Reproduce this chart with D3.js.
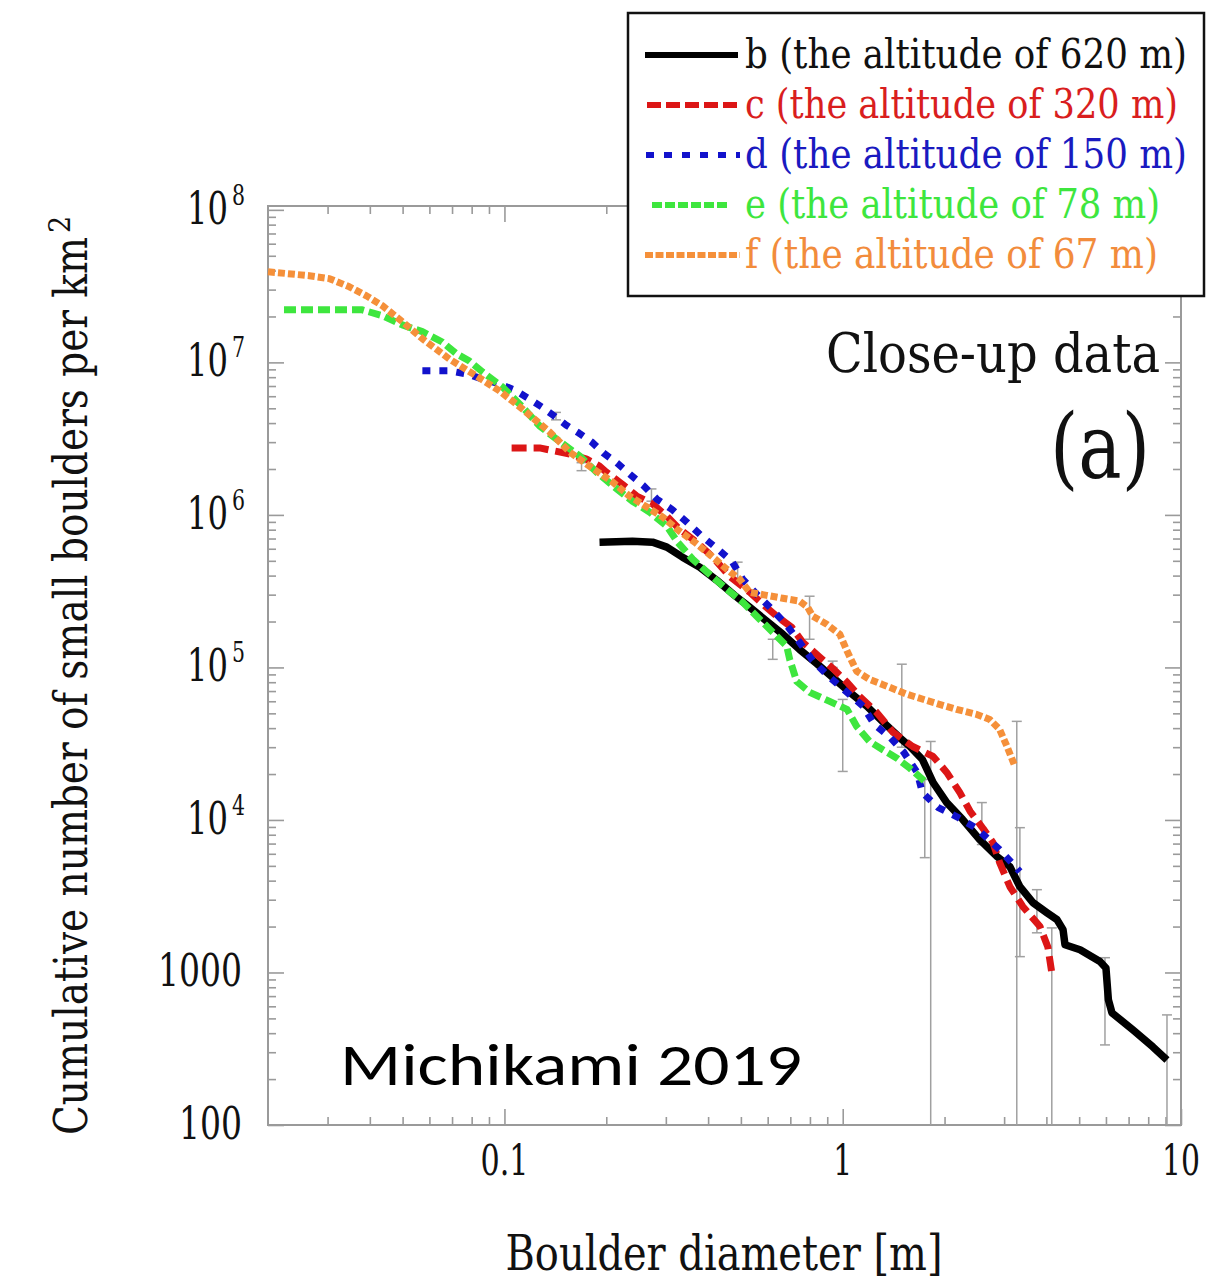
<!DOCTYPE html>
<html><head><meta charset="utf-8">
<script src="https://cdn.jsdelivr.net/npm/d3@7"></script>
<style>
body{margin:0;background:#fff}
svg{display:block}
</style>
</head><body>
<svg id="chart" width="1223" height="1281"></svg>
<script>
// ---------- data ----------
// b: altitude 620 m
const bDiam = [0.191,0.239,0.274,0.302,0.336,0.378,0.424,0.479,0.531,0.596,0.665,0.746,0.838,0.934,1.05,1.18,1.31,1.47,1.58,1.72,1.85,2.03,2.26,2.54,2.86,3.12,3.34,3.65,4.01,4.30,4.48,4.54,5.03,5.76,6.00,6.10,6.25,7.21,8.26,9.09];
const bCum  = [6.63e5,6.73e5,6.63e5,6.15e5,5.28e5,4.54e5,3.73e5,2.97e5,2.48e5,2.01e5,1.65e5,1.31e5,1.06e5,8.61e4,6.86e4,5.55e4,4.43e4,3.48e4,3.03e4,2.49e4,1.76e4,1.30e4,1.01e4,7.43e3,5.75e3,4.94e3,3.65e3,2.87e3,2.47e3,2.22e3,1.91e3,1.52e3,1.41e3,1.18e3,1.07e3,662,544,420,325,267];
// c: altitude 320 m
const cDiam = [0.105,0.127,0.141,0.156,0.175,0.191,0.200,0.223,0.246,0.274,0.302,0.329,0.370,0.413,0.463,0.531,0.580,0.638,0.707,0.762,0.855,0.934,1.03,1.12,1.26,1.41,1.61,1.85,2.03,2.22,2.38,2.60,2.78,2.91,3.12,3.41,3.83,4.04,4.15];
const cCum  = [2.75e6,2.75e6,2.62e6,2.51e6,2.32e6,2.09e6,1.91e6,1.59e6,1.33e6,1.18e6,9.82e5,8.07e5,6.63e5,5.28e5,3.96e5,3.11e5,2.60e5,2.17e5,1.83e5,1.46e5,1.17e5,9.87e4,7.99e4,6.46e4,5.07e4,3.75e4,3.03e4,2.61e4,2.05e4,1.51e4,1.14e4,8.78e3,7.11e3,5.25e3,3.65e3,2.70e3,2.00e3,1.47e3,995];
// d: altitude 150 m
const dDiam = [0.0572,0.0688,0.0772,0.0861,0.0967,0.107,0.117,0.129,0.139,0.152,0.166,0.181,0.196,0.215,0.236,0.258,0.282,0.314,0.346,0.383,0.424,0.470,0.506,0.557,0.617,0.683,0.746,0.815,0.915,1.03,1.15,1.24,1.38,1.51,1.66,1.72,1.91,2.19,2.49,2.91,3.34];
const dCum  = [8.80e6,8.80e6,8.40e6,7.79e6,7.22e6,6.60e6,5.85e6,5.10e6,4.52e6,3.89e6,3.44e6,3.01e6,2.55e6,2.19e6,1.83e6,1.55e6,1.27e6,1.08e6,8.97e5,7.26e5,6.05e5,4.97e5,3.79e5,3.02e5,2.41e5,1.89e5,1.46e5,1.11e5,8.61e4,6.86e4,5.55e4,4.23e4,3.48e4,2.81e4,2.05e4,1.51e4,1.21e4,1.04e4,8.78e3,6.39e3,4.58e3];
// e: altitude 78 m
const eDiam = [0.0223,0.0380,0.0436,0.0499,0.0572,0.0655,0.0721,0.0788,0.0861,0.0986,0.113,0.127,0.145,0.167,0.187,0.215,0.239,0.269,0.302,0.325,0.360,0.410,0.454,0.506,0.568,0.621,0.683,0.697,0.731,0.799,0.915,1.03,1.10,1.20,1.31,1.45,1.58,1.75];
const eCum  = [2.21e7,2.21e7,2.02e7,1.76e7,1.59e7,1.36e7,1.14e7,1.02e7,8.66e6,6.91e6,5.10e6,3.83e6,3.05e6,2.43e6,1.91e6,1.48e6,1.23e6,1.04e6,8.44e5,6.63e5,5.13e5,3.96e5,3.26e5,2.68e5,2.07e5,1.70e5,1.38e5,1.13e5,8.10e4,6.86e4,5.99e4,5.31e4,4.10e4,3.27e4,2.90e4,2.53e4,2.18e4,1.79e4];
// f: altitude 67 m
const fDiam = [0.0200,0.0265,0.0304,0.0348,0.0391,0.0436,0.0499,0.0572,0.0688,0.0826,0.0967,0.113,0.136,0.156,0.187,0.209,0.234,0.263,0.294,0.329,0.365,0.410,0.454,0.496,0.531,0.596,0.665,0.746,0.788,0.815,0.897,0.980,1.03,1.10,1.20,1.31,1.55,1.85,2.17,2.49,2.72,2.91,3.06,3.23];
const fCum  = [3.93e7,3.70e7,3.54e7,3.13e7,2.73e7,2.35e7,1.85e7,1.43e7,1.05e7,8.15e6,6.50e6,4.95e6,3.50e6,2.58e6,1.94e6,1.64e6,1.33e6,1.13e6,9.67e5,7.83e5,6.63e5,5.36e5,4.41e5,3.79e5,3.11e5,2.97e5,2.84e5,2.72e5,2.48e5,2.17e5,1.92e5,1.65e5,1.28e5,9.43e4,8.35e4,7.74e4,6.66e4,5.90e4,5.31e4,4.92e4,4.56e4,3.92e4,3.03e4,2.24e4];
// error bars (0 = reaches down to zero)
const errDiam = [0.142,0.169,0.272,0.489,0.621,0.798,0.934,1.0,1.495,1.748,1.82,2.578,3.27,3.34,3.75,4.15,5.96,9.09];
const errLow  = [4.2e6,1.95e6,1.23e6,3.79e5,1.13e5,1.53e5,1.0e5,2.08e4,3.0e4,5.66e3,0,6.9e3,0,1.27e3,1.82e3,0,335,0];
const errHigh = [4.7e6,2.2e6,1.48e6,4.9e5,1.53e5,2.93e5,1.1e5,6.17e4,1.05e5,1.84e4,3.27e4,1.3e4,4.43e4,8.9e3,3.49e3,1.96e3,1.25e3,527];

const seriesLabels = ["b (the altitude of 620 m)","c (the altitude of 320 m)","d (the altitude of 150 m)","e (the altitude of 78 m)","f (the altitude of 67 m)"];
const seriesColors = ["#000000","#dc1616","#1212cc","#3ee63e","#f5903a"];
const textColors   = ["#111111","#d91e1e","#1a1ac0","#3ee63e","#f28c3c"];
const seriesDash   = [null,"15,7","8,9","12,5","7,3"];
const legendDash   = [null,"14,5","8,10","10,3","8,2.5"];

const xMajor = [0.1,1,10];
const xMajorLabels = ["0.1","1","10"];
const xMinor = [0.03,0.04,0.05,0.06,0.07,0.08,0.09,0.2,0.3,0.4,0.5,0.6,0.7,0.8,0.9,2,3,4,5,6,7,8,9];
const yMajor = [100,1e3,1e4,1e5,1e6,1e7,1e8];
const yMajorLabels = ["100","1000","10^4","10^5","10^6","10^7","10^8"];
const yMinor = [];
for (let k = 2; k <= 7; k++) for (let m = 2; m <= 9; m++) yMinor.push(m * Math.pow(10, k));

// ---------- chart ----------
const SERIF = "'DejaVu Serif Condensed','Liberation Serif','Times New Roman',serif";
const SANS = "Carlito,'Noto Sans','Open Sans','Liberation Sans',sans-serif";
const svg = d3.select("#chart");
const L = 268, R = 1181, T = 206, B = 1125;
const x = d3.scaleLog().domain([0.02, 10]).range([L, R]);
const y = d3.scaleLog().domain([100, 1.06e8]).range([B, T]);
const axisCol = "#9a9a9a";

function txt(sel, family, w){
  const t = sel.append("text").style("font-family", family || SERIF).style("font-stretch","condensed");
  if (w) t.attr("textLength", w).attr("lengthAdjust","spacingAndGlyphs");
  return t;
}

function styleAxis(g){
  g.select(".domain").remove();
  g.selectAll(".tick line").attr("stroke", axisCol).attr("stroke-width", 1.6);
  g.selectAll(".tick text").remove();
}
// ticks, inward on all four sides
svg.append("g").attr("transform",`translate(0,${B})`).call(d3.axisBottom(x).tickValues(xMajor).tickSize(-16)).call(styleAxis);
svg.append("g").attr("transform",`translate(0,${B})`).call(d3.axisBottom(x).tickValues(xMinor).tickSize(-8)).call(styleAxis);
svg.append("g").attr("transform",`translate(0,${T})`).call(d3.axisTop(x).tickValues(xMajor).tickSize(-16)).call(styleAxis);
svg.append("g").attr("transform",`translate(0,${T})`).call(d3.axisTop(x).tickValues(xMinor).tickSize(-8)).call(styleAxis);
svg.append("g").attr("transform",`translate(${L},0)`).call(d3.axisLeft(y).tickValues(yMajor).tickSize(-16)).call(styleAxis);
svg.append("g").attr("transform",`translate(${L},0)`).call(d3.axisLeft(y).tickValues(yMinor).tickSize(-8)).call(styleAxis);
svg.append("g").attr("transform",`translate(${R},0)`).call(d3.axisRight(y).tickValues(yMajor).tickSize(-16)).call(styleAxis);
svg.append("g").attr("transform",`translate(${R},0)`).call(d3.axisRight(y).tickValues(yMinor).tickSize(-8)).call(styleAxis);

svg.append("rect").attr("x",L).attr("y",T).attr("width",R-L).attr("height",B-T)
  .attr("fill","none").attr("stroke",axisCol).attr("stroke-width",2);

// tick labels
xMajor.forEach((v,i)=>{
  txt(svg, null, 19*xMajorLabels[i].replace(".","").length + (xMajorLabels[i].includes(".") ? 10 : 0))
    .attr("x",x(v)).attr("y",1175).attr("text-anchor","middle")
    .attr("font-size",42).attr("fill","#111").text(xMajorLabels[i]);
});
yMajor.forEach((v,i)=>{
  const parts = yMajorLabels[i].split("^");
  if (parts[1]) {
    const t = txt(svg, null, 58).attr("x",245).attr("y",y(v)+14).attr("text-anchor","end")
      .attr("font-size",44).attr("fill","#111");
    t.append("tspan").text(parts[0]);
    t.append("tspan").attr("dy",-19).attr("dx",5).attr("font-size",28).text(parts[1]);
  } else {
    txt(svg, null, 21*parts[0].length).attr("x",242).attr("y",y(v)+14).attr("text-anchor","end")
      .attr("font-size",44).attr("fill","#111").text(parts[0]);
  }
});

// axis titles
txt(svg, null, 437).attr("x",724).attr("y",1270).attr("text-anchor","middle")
  .attr("font-size",48).attr("fill","#111").text("Boulder diameter [m]");
txt(svg, null, 898).attr("transform","translate(87,1135) rotate(-90)").attr("text-anchor","start")
  .attr("font-size",46).attr("fill","#111").text("Cumulative number of small boulders per km");
txt(svg).attr("transform","translate(70,233) rotate(-90)").attr("text-anchor","start")
  .attr("font-size",30).attr("fill","#111").text("2");

// error bars
const eb = svg.append("g").attr("stroke","#a0a0a0").attr("stroke-width",1.5).attr("fill","none");
errDiam.forEach((d,i)=>{
  const cx = x(d), y1 = y(errHigh[i]), y0 = errLow[i] > 0 ? y(errLow[i]) : B;
  eb.append("line").attr("x1",cx).attr("x2",cx).attr("y1",y1).attr("y2",y0);
  eb.append("line").attr("x1",cx-5).attr("x2",cx+5).attr("y1",y1).attr("y2",y1);
  if (errLow[i] > 0) eb.append("line").attr("x1",cx-5).attr("x2",cx+5).attr("y1",y0).attr("y2",y0);
});

// curves
const series = [
  {d:bDiam, n:bCum},{d:cDiam, n:cCum},{d:dDiam, n:dCum},{d:eDiam, n:eCum},{d:fDiam, n:fCum}
];
const line = d3.line().x(p=>x(p[0])).y(p=>y(p[1]));
series.forEach((s,i)=>{
  const pts = s.d.map((v,j)=>[v, s.n[j]]);
  svg.append("path").attr("d", line(pts)).attr("fill","none")
    .attr("stroke", seriesColors[i]).attr("stroke-width", i===0 ? 7.5 : 7)
    .attr("stroke-linejoin","round")
    .attr("stroke-dasharray", seriesDash[i]);
});

// annotations
txt(svg, null, 334).attr("x",1160).attr("y",372).attr("text-anchor","end")
  .attr("font-size",55).attr("fill","#111").text("Close-up data");
txt(svg, null, 100).attr("x",1150).attr("y",478).attr("text-anchor","end")
  .attr("font-size",90).attr("fill","#111").text("(a)");
txt(svg, SANS, 462).style("font-stretch","normal").attr("x",340).attr("y",1085).attr("text-anchor","start")
  .attr("font-size",60).attr("fill","#000").text("Michikami 2019");

// legend
const lg = svg.append("g");
lg.append("rect").attr("x",628).attr("y",13).attr("width",576).attr("height",283)
  .attr("fill","#fff").attr("stroke","#111").attr("stroke-width",2.5);
const sampleX0 = [645,647,646,652,645], sampleX1 = [738,740,740,730,740];
const legendTextW = [442,433,442,415,413];
seriesLabels.forEach((lab,i)=>{
  const base = 68 + i*50;
  lg.append("line").attr("x1",sampleX0[i]).attr("x2",sampleX1[i]).attr("y1",base-13).attr("y2",base-13)
    .attr("stroke",seriesColors[i]).attr("stroke-width",6).attr("stroke-dasharray",legendDash[i]);
  txt(lg, null, legendTextW[i]).attr("x",745).attr("y",base).attr("font-size",41).attr("fill",textColors[i]).text(lab);
});
</script>
</body></html>
